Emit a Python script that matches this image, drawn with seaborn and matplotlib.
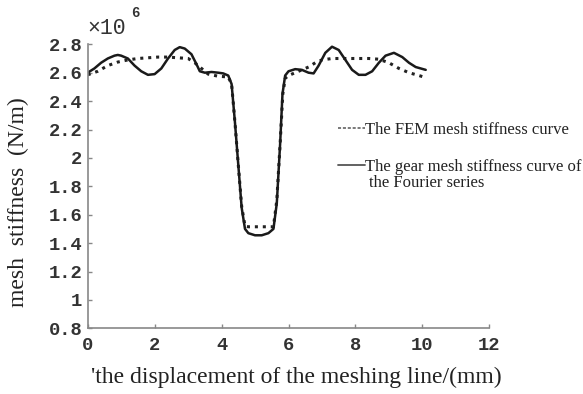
import matplotlib
matplotlib.use("Agg")
import matplotlib.pyplot as plt
import pandas as pd
import seaborn as sns
from matplotlib.ticker import FixedLocator, FixedFormatter

# Mesh stiffness along the line of action (units of 1e6 N/m)
fem_x = [0.0, 0.3, 0.6, 0.9, 1.2, 1.5, 1.8, 2.1, 2.4, 2.7, 3.0, 3.2, 3.4, 3.6,
         3.9, 4.2, 4.3, 4.4, 4.5, 4.6, 4.7, 4.8, 5.0, 5.2, 5.4, 5.55, 5.65,
         5.75, 5.83, 5.9, 6.0, 6.2, 6.4, 6.6, 6.8, 7.0, 7.3, 7.6, 8.0, 8.4,
         8.7, 9.0, 9.3, 9.6, 9.9, 10.1]
fem_k = [2.585, 2.61, 2.65, 2.675, 2.69, 2.70, 2.705, 2.71, 2.71, 2.705, 2.70,
         2.67, 2.63, 2.59, 2.575, 2.57, 2.52, 2.25, 1.95, 1.66, 1.52, 1.515,
         1.515, 1.515, 1.515, 1.515, 1.70, 2.10, 2.45, 2.56, 2.58, 2.60, 2.62,
         2.64, 2.67, 2.69, 2.70, 2.70, 2.70, 2.70, 2.695, 2.67, 2.63, 2.60,
         2.58, 2.565]

fourier_x = [0.0, 0.2, 0.4, 0.6, 0.8, 0.9, 1.0, 1.2, 1.4, 1.6, 1.8, 2.0, 2.2,
             2.4, 2.6, 2.75, 2.9, 3.1, 3.25, 3.35, 3.5, 3.7, 3.9, 4.05, 4.2,
             4.3, 4.4, 4.5, 4.6, 4.7, 4.8, 5.0, 5.2, 5.4, 5.55, 5.65, 5.75,
             5.82, 5.9, 6.0, 6.2, 6.4, 6.6, 6.75, 6.9, 7.1, 7.3, 7.5, 7.7, 7.9,
             8.1, 8.3, 8.5, 8.7, 8.9, 9.15, 9.4, 9.6, 9.8, 10.1]
fourier_k = [2.60, 2.63, 2.67, 2.70, 2.72, 2.725, 2.72, 2.70, 2.65, 2.61,
             2.585, 2.59, 2.63, 2.70, 2.76, 2.78, 2.77, 2.73, 2.66, 2.61,
             2.60, 2.605, 2.60, 2.595, 2.58, 2.52, 2.25, 1.95, 1.65, 1.50,
             1.47, 1.455, 1.455, 1.47, 1.50, 1.68, 2.10, 2.45, 2.58, 2.61,
             2.625, 2.62, 2.60, 2.595, 2.65, 2.74, 2.783, 2.76, 2.69, 2.62,
             2.585, 2.585, 2.61, 2.67, 2.72, 2.74, 2.71, 2.67, 2.64, 2.62]

x_ticks = [0, 2, 4, 6, 8, 10, 12]
x_tick_labels = ["0", "2", "4", "6", "8", "10", "12"]
y_ticks = [0.8, 1.0, 1.2, 1.4, 1.6, 1.8, 2.0, 2.2, 2.4, 2.6, 2.8]
y_tick_labels = ["0.8", "1", "1.2", "1.4", "1.6", "1.8", "2", "2.2", "2.4",
                 "2.6", "2.8"]

fem_label = "The FEM mesh stiffness curve"
fourier_label = "The gear mesh stiffness curve of"
fourier_label_2 = "the Fourier series"

sns.set_style("ticks")
plt.rcParams["font.family"] = ["Liberation Serif", "DejaVu Sans"]

W, H = 583, 394
fig = plt.figure(figsize=(W / 100, H / 100), dpi=100)
ax = fig.add_axes([87.7 / W, 1 - 328.3 / H, (489.3 - 87.7) / W,
                   (328.3 - 44.3) / H])

fem_df = pd.DataFrame({"x": fem_x, "k": fem_k})
fourier_df = pd.DataFrame({"x": fourier_x, "k": fourier_k})

sns.lineplot(data=fem_df, x="x", y="k", ax=ax, color="#222222",
             linewidth=2.2, linestyle=(0, (1.0, 1.6)), label=fem_label)
sns.lineplot(data=fourier_df, x="x", y="k", ax=ax, color="#1a1a1a",
             linewidth=1.8, label=fourier_label)

ax.set_xlim(0, 12)
ax.set_ylim(0.8, 2.8)
ax.xaxis.set_major_locator(FixedLocator(x_ticks))
ax.xaxis.set_major_formatter(FixedFormatter(x_tick_labels))
ax.yaxis.set_major_locator(FixedLocator(y_ticks))
ax.yaxis.set_major_formatter(FixedFormatter(y_tick_labels))

for side in ("top", "right"):
    ax.spines[side].set_visible(False)
for side in ("left", "bottom"):
    ax.spines[side].set_color("#888888")
    ax.spines[side].set_linewidth(1.2)
ax.tick_params(direction="in", length=3, width=1, color="#888888",
               labelcolor="#333333")
ax.tick_params(axis="x", pad=6)
ax.tick_params(axis="y", pad=4)
for lab in ax.get_xticklabels() + ax.get_yticklabels():
    lab.set_fontfamily("Liberation Mono")
    lab.set_fontsize(13.5)
    lab.set_fontweight("bold")

ax.set_xlabel("'the displacement of the meshing line/(mm)", fontsize=17,
              color="#222222")
ax.xaxis.set_label_coords(0.519, -0.135)
ax.set_ylabel("mesh  stiffness  (N/m)", fontsize=17, color="#222222")
ax.yaxis.set_label_coords(-0.145, 0.445)

# scale factor of the stiffness axis
fig.text(87 / W, 1 - 29 / H, "×10", fontsize=15.5, color="#333333",
         family="Liberation Mono", ha="left", va="center")
fig.text(131 / W, 1 - 13 / H, "6", fontsize=10, color="#333333",
         family="Liberation Mono", fontweight="bold", ha="left", va="center")

leg = ax.legend(loc="upper left", bbox_to_anchor=(338 / W, 1 - 121.5 / H),
                bbox_transform=fig.transFigure, frameon=False,
                handlelength=1.6, handletextpad=0.0, borderpad=0,
                borderaxespad=0, fontsize=12, labelspacing=1.28)
for t in leg.get_texts():
    t.set_color("#222222")
handles = leg.get_lines()
handles[0].set_linestyle((0, (2.0, 1.2)))
handles[0].set_linewidth(1.1)
handles[0].set_color("#555555")
handles[1].set_linewidth(1.3)
handles[1].set_color("#555555")
fig.text(369 / W, 1 - 183 / H, fourier_label_2, fontsize=12,
         color="#222222", ha="left", va="center")

fig.savefig("out.png", dpi=100)
